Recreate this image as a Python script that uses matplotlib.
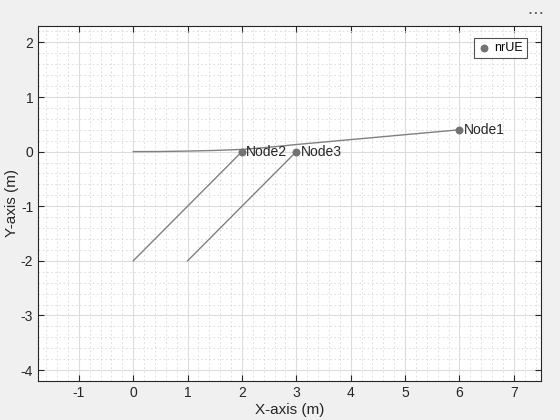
import matplotlib
matplotlib.use("Agg")
import matplotlib.pyplot as plt
import numpy as np
from matplotlib.ticker import MultipleLocator

plt.rcParams['font.family'] = ['Liberation Sans', 'DejaVu Sans']
plt.rcParams['axes.unicode_minus'] = False

node_names = ["Node1", "Node2", "Node3"]
node_x = [6, 2, 3]
node_y = [0.4, 0.0, 0.0]

path1_x = [0, 0.5, 1, 1.5, 2, 2.5, 3, 4, 5, 6]
path1_y = [0.0, 0.002, 0.01, 0.022, 0.04, 0.08, 0.13, 0.22, 0.31, 0.4]
path2_x = [0, 2]
path2_y = [-2, 0]
path3_x = [1, 3]
path3_y = [-2, 0]

xticks = [-1, 0, 1, 2, 3, 4, 5, 6, 7]
yticks = [-4, -3, -2, -1, 0, 1, 2]

bg = '#f0f0f0'
fig = plt.figure(figsize=(5.6, 4.2), dpi=100, facecolor=bg)
ax = fig.add_axes([0.068, 0.093, 0.898, 0.845])
ax.set_facecolor('white')

gray = '#808080'
ax.plot(path1_x, path1_y, color=gray, lw=1, zorder=3)
ax.plot(path2_x, path2_y, color=gray, lw=1, zorder=3)
ax.plot(path3_x, path3_y, color=gray, lw=1, zorder=3)
ax.scatter(node_x, node_y, s=22, color='#737373', zorder=4, label='nrUE')
for n, x, y in zip(node_names, node_x, node_y):
    ax.text(x + 0.08, y, n, fontsize=10, color='#262626', va='center', ha='left', zorder=5)

ax.set_xlim(-1.75, 7.5)
ax.set_ylim(-4.2, 2.3)
ax.set_xticks(xticks)
ax.set_yticks(yticks)
ax.xaxis.set_minor_locator(MultipleLocator(0.2))
ax.yaxis.set_minor_locator(MultipleLocator(0.2))
ax.grid(True, which='major', color='#dcdcdc', lw=0.8, zorder=0)
ax.grid(True, which='minor', color='#d8d8d8', lw=0.6, ls=(0, (2, 3)), zorder=0)
ax.set_axisbelow(True)
ax.tick_params(which='both', direction='in', top=True, right=True, colors='#262626', labelsize=10)
ax.tick_params(which='minor', length=0)
ax.tick_params(which='major', length=4)
for s in ax.spines.values():
    s.set_color('#262626')
    s.set_linewidth(0.8)
ax.set_xlabel('X-axis (m)', fontsize=11, color='#262626', labelpad=2)
ax.set_ylabel('Y-axis (m)', fontsize=11, color='#262626', labelpad=1)

leg = ax.legend(loc='upper right', fontsize=9, frameon=True, fancybox=False,
                handletextpad=0.3, handlelength=1.0, borderpad=0.35,
                bbox_to_anchor=(0.985, 0.985))
leg.get_frame().set_edgecolor('#262626')
leg.get_frame().set_linewidth(0.8)

fig.text(0.957, 0.968, '• • •', fontsize=6, color='#555555', ha='center', va='center')

fig.savefig('out.png', dpi=100, facecolor=bg)
